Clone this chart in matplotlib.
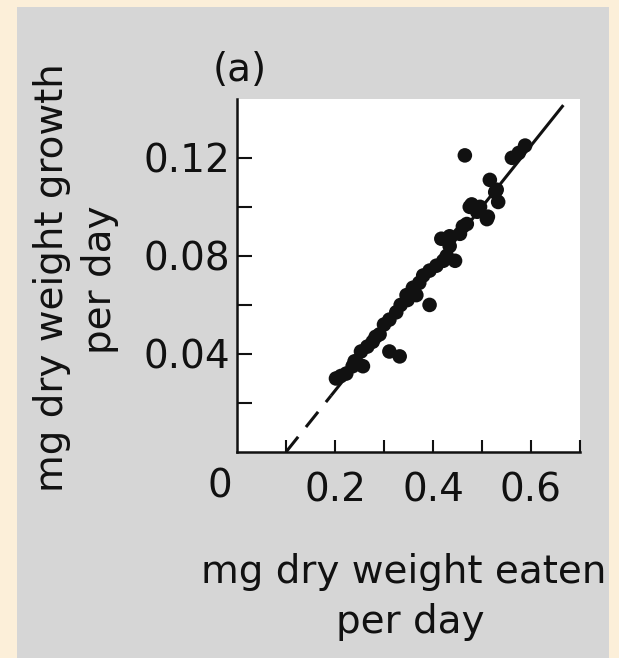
import matplotlib
matplotlib.use("Agg")
import matplotlib.pyplot as plt
from matplotlib.patches import Rectangle
import numpy as np

plt.rcParams["font.family"] = ["DejaVu Sans"]
plt.rcParams["lines.scale_dashes"] = False

###################################################
# Data
###################################################

eaten = [
    0.202, 0.212, 0.223, 0.236, 0.257, 0.253, 0.266, 0.277, 0.291, 0.300,
    0.311, 0.311, 0.332, 0.325, 0.334, 0.346, 0.359, 0.356, 0.366, 0.393,
    0.380, 0.393, 0.407, 0.421, 0.445, 0.428, 0.417, 0.434, 0.434, 0.455,
    0.469, 0.461, 0.475, 0.496, 0.510, 0.512, 0.479, 0.527, 0.533, 0.516,
    0.530, 0.561, 0.575, 0.588, 0.465, 0.283, 0.240, 0.490, 0.348, 0.372,
]

growth = [
    0.030, 0.031, 0.032, 0.035, 0.035, 0.041, 0.043, 0.045, 0.048, 0.052,
    0.054, 0.041, 0.039, 0.057, 0.060, 0.064, 0.067, 0.065, 0.064, 0.060,
    0.072, 0.074, 0.076, 0.078, 0.078, 0.080, 0.087, 0.084, 0.088, 0.089,
    0.093, 0.092, 0.100, 0.100, 0.095, 0.096, 0.101, 0.106, 0.102, 0.111,
    0.107, 0.120, 0.122, 0.125, 0.121, 0.047, 0.037, 0.098, 0.062, 0.069,
]

# fitted line: growth = slope * (eaten - x_intercept)
slope = 0.25
x_intercept = 0.1
x_solid_start = 0.192
x_line_end = 0.666

x_ticks = [0.1, 0.2, 0.3, 0.4, 0.5, 0.6, 0.7]
x_tick_labels = ["", "0.2", "", "0.4", "", "0.6", ""]
y_ticks = [0.02, 0.04, 0.06, 0.08, 0.10, 0.12]
y_tick_labels = ["", "0.04", "", "0.08", "", "0.12"]

###################################################
# Figure
###################################################

W, H = 619, 658
fig = plt.figure(figsize=(W / 100, H / 100), dpi=100)
fig.patch.set_facecolor("#fcefd9")

# grey scanned page
fig.patches.append(
    Rectangle(
        (17 / W, 0),
        (609 - 17) / W,
        (658 - 7) / H,
        transform=fig.transFigure,
        facecolor="#d6d6d6",
        edgecolor="none",
        zorder=0
    )
)

ax = fig.add_axes([237 / W, (H - 452) / H, (580 - 237) / W, (452 - 99) / H])
ax.set_zorder(2)
ax.set_facecolor("white")

ink = "#111111"
fs = 28

ax.scatter(
    eaten,
    growth,
    s=110,
    color=ink,
    edgecolors="none",
    zorder=3
)

xs = np.array([x_solid_start, x_line_end])
ax.plot(xs, slope * (xs - x_intercept), color=ink, lw=2.2, solid_capstyle="butt")

xd = np.array([x_intercept, x_solid_start])
ax.plot(
    xd,
    slope * (xd - x_intercept),
    color=ink,
    lw=2.2,
    dashes=(14, 9),
    dash_capstyle="butt"
)

ax.set_xlim(0, 0.7)
ax.set_ylim(0, 0.144)

for side in ["top", "right"]:
    ax.spines[side].set_visible(False)
for side in ["left", "bottom"]:
    ax.spines[side].set_linewidth(1.8)
    ax.spines[side].set_color(ink)

ax.set_xticks(x_ticks)
ax.set_xticklabels(x_tick_labels)
ax.set_yticks(y_ticks)
ax.set_yticklabels(y_tick_labels)

ax.tick_params(axis="y", direction="in", length=11, width=1.5, color=ink,
               pad=5, labelsize=fs, labelcolor=ink)
ax.tick_params(axis="x", direction="in", length=9, width=1.5, color=ink,
               pad=14, labelsize=fs, labelcolor=ink)

# shared origin label
fig.text(220 / W, (H - 486) / H, "0", fontsize=fs, color=ink,
         ha="center", va="center")

fig.text(240 / W, (H - 70) / H, "(a)", fontsize=fs, color=ink,
         ha="center", va="center")

fig.text(404 / W, (H - 572) / H, "mg dry weight eaten", fontsize=fs,
         color=ink, ha="center", va="center")
fig.text(410 / W, (H - 622) / H, "per day", fontsize=fs,
         color=ink, ha="center", va="center")

fig.text(52 / W, (H - 278) / H, "mg dry weight growth", fontsize=fs,
         color=ink, ha="center", va="center", rotation=90)
fig.text(100 / W, (H - 280) / H, "per day", fontsize=fs,
         color=ink, ha="center", va="center", rotation=90)

fig.savefig("out.png", dpi=100, facecolor=fig.get_facecolor())
